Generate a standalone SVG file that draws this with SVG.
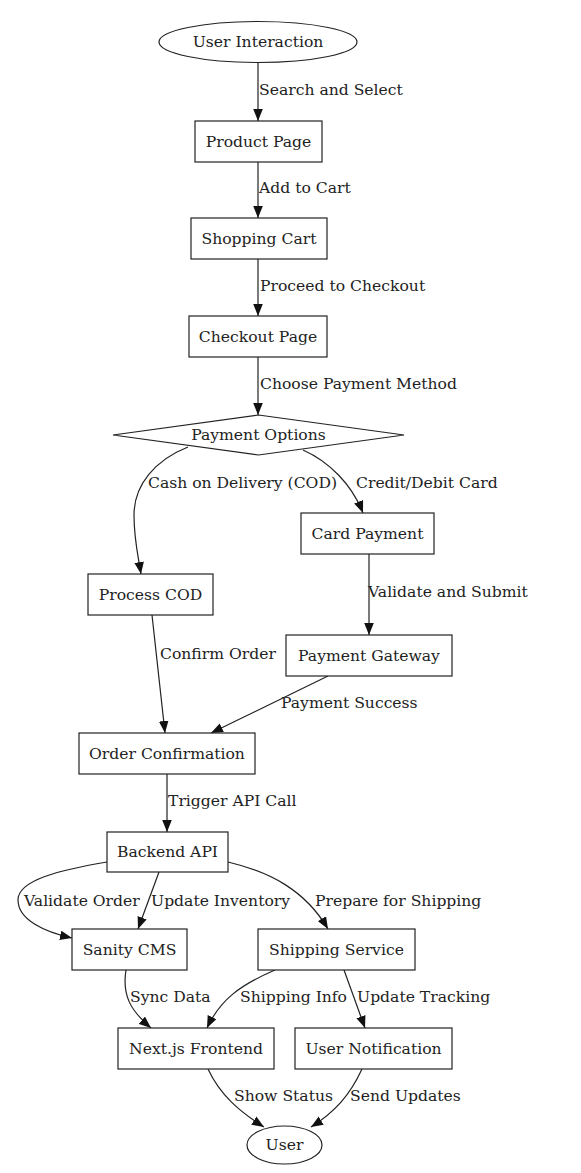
<svg xmlns="http://www.w3.org/2000/svg" width="581" height="1173" viewBox="0 0 581 1173">
<style>
.n{fill:#fff;stroke:#222;stroke-width:1.2}
.t{font-family:"DejaVu Serif","Liberation Serif",serif;font-size:15.6px;fill:#222}
.c{text-anchor:middle}
.e{fill:none;stroke:#222;stroke-width:1.2;marker-end:url(#ah)}
</style>
<defs>
<marker id="ah" markerUnits="userSpaceOnUse" markerWidth="12" markerHeight="10" viewBox="0 0 10 8" refX="10" refY="4" orient="auto">
<path d="M0,0 L10,4 L0,8 Z" fill="#111"/>
</marker>
</defs>
<rect width="581" height="1173" fill="#fff"/>
<g id="connectors">
<path class="e" d="M258,63 L258,121"/>
<path class="e" d="M258,162 L258,218"/>
<path class="e" d="M258,259 L258,316"/>
<path class="e" d="M258,357 L258,415"/>
<path class="e" d="M188,447 C155,460 134,485 134,515 C134,540 138,555 141,574"/>
<path class="e" d="M303,450 C330,462 352,485 363,513"/>
<path class="e" d="M369,554 L369,635"/>
<path class="e" d="M152,615 L165,733"/>
<path class="e" d="M328,676 L211,733"/>
<path class="e" d="M167,774 L167,832"/>
<path class="e" d="M107,862 C60,870 18,880 18,900 C18,920 45,932 72,938"/>
<path class="e" d="M159,872 L138,929"/>
<path class="e" d="M228,862 C270,872 305,890 328,929"/>
<path class="e" d="M126,970 C122,995 130,1010 151,1028"/>
<path class="e" d="M275,970 C240,985 220,1000 207,1028"/>
<path class="e" d="M344,970 L365,1028"/>
<path class="e" d="M208,1069 C220,1095 240,1112 264,1127"/>
<path class="e" d="M362,1069 C350,1095 335,1112 311,1127"/>
<text class="t" x="259" y="95">Search and Select</text>
<text class="t" x="259" y="193">Add to Cart</text>
<text class="t" x="260" y="291">Proceed to Checkout</text>
<text class="t" x="260" y="389">Choose Payment Method</text>
<text class="t" x="148" y="488">Cash on Delivery (COD)</text>
<text class="t" x="356" y="488">Credit/Debit Card</text>
<text class="t" x="368" y="597">Validate and Submit</text>
<text class="t" x="160" y="659">Confirm Order</text>
<text class="t" x="281" y="708">Payment Success</text>
<text class="t" x="168" y="806">Trigger API Call</text>
<text class="t" x="24" y="905.5">Validate Order</text>
<text class="t" x="151" y="905.5">Update Inventory</text>
<text class="t" x="315" y="905.5">Prepare for Shipping</text>
<text class="t" x="130" y="1002">Sync Data</text>
<text class="t" x="240" y="1002">Shipping Info</text>
<text class="t" x="357" y="1002">Update Tracking</text>
<text class="t" x="234" y="1101">Show Status</text>
<text class="t" x="350" y="1101">Send Updates</text>
</g>
<g id="user-interaction"><ellipse class="n" cx="258" cy="42" rx="99" ry="20.5"/><text class="t c" x="258" y="47">User Interaction</text></g>
<g id="product-page"><rect class="n" x="195" y="121" width="127" height="41"/><text class="t c" x="258.5" y="146.5">Product Page</text></g>
<g id="shopping-cart"><rect class="n" x="191" y="218" width="136" height="41"/><text class="t c" x="259" y="243.5">Shopping Cart</text></g>
<g id="checkout-page"><rect class="n" x="189" y="316" width="138" height="41"/><text class="t c" x="258" y="341.5">Checkout Page</text></g>
<g id="payment-options"><polygon class="n" points="258.5,415 404,435 258.5,455 113,435"/><text class="t c" x="258.5" y="440">Payment Options</text></g>
<g id="card-payment"><rect class="n" x="301" y="513" width="133" height="41"/><text class="t c" x="367.5" y="538.5">Card Payment</text></g>
<g id="process-cod"><rect class="n" x="88" y="574" width="125" height="41"/><text class="t c" x="150.5" y="599.5">Process COD</text></g>
<g id="payment-gateway"><rect class="n" x="286" y="635" width="166" height="41"/><text class="t c" x="369" y="660.5">Payment Gateway</text></g>
<g id="order-confirmation"><rect class="n" x="79" y="733" width="176" height="41"/><text class="t c" x="167" y="758.5">Order Confirmation</text></g>
<g id="backend-api"><rect class="n" x="107" y="832" width="121" height="40"/><text class="t c" x="167.5" y="857">Backend API</text></g>
<g id="sanity-cms"><rect class="n" x="72" y="929" width="115" height="41"/><text class="t c" x="129.5" y="954.5">Sanity CMS</text></g>
<g id="shipping-service"><rect class="n" x="258" y="929" width="157" height="41"/><text class="t c" x="336.5" y="954.5">Shipping Service</text></g>
<g id="nextjs-frontend"><rect class="n" x="118" y="1028" width="156" height="41"/><text class="t c" x="196" y="1053.5">Next.js Frontend</text></g>
<g id="user-notification"><rect class="n" x="295" y="1028" width="157" height="41"/><text class="t c" x="373.5" y="1053.5">User Notification</text></g>
<g id="user"><ellipse class="n" cx="284.5" cy="1145" rx="37.5" ry="19"/><text class="t c" x="284.5" y="1150">User</text></g>
</svg>
